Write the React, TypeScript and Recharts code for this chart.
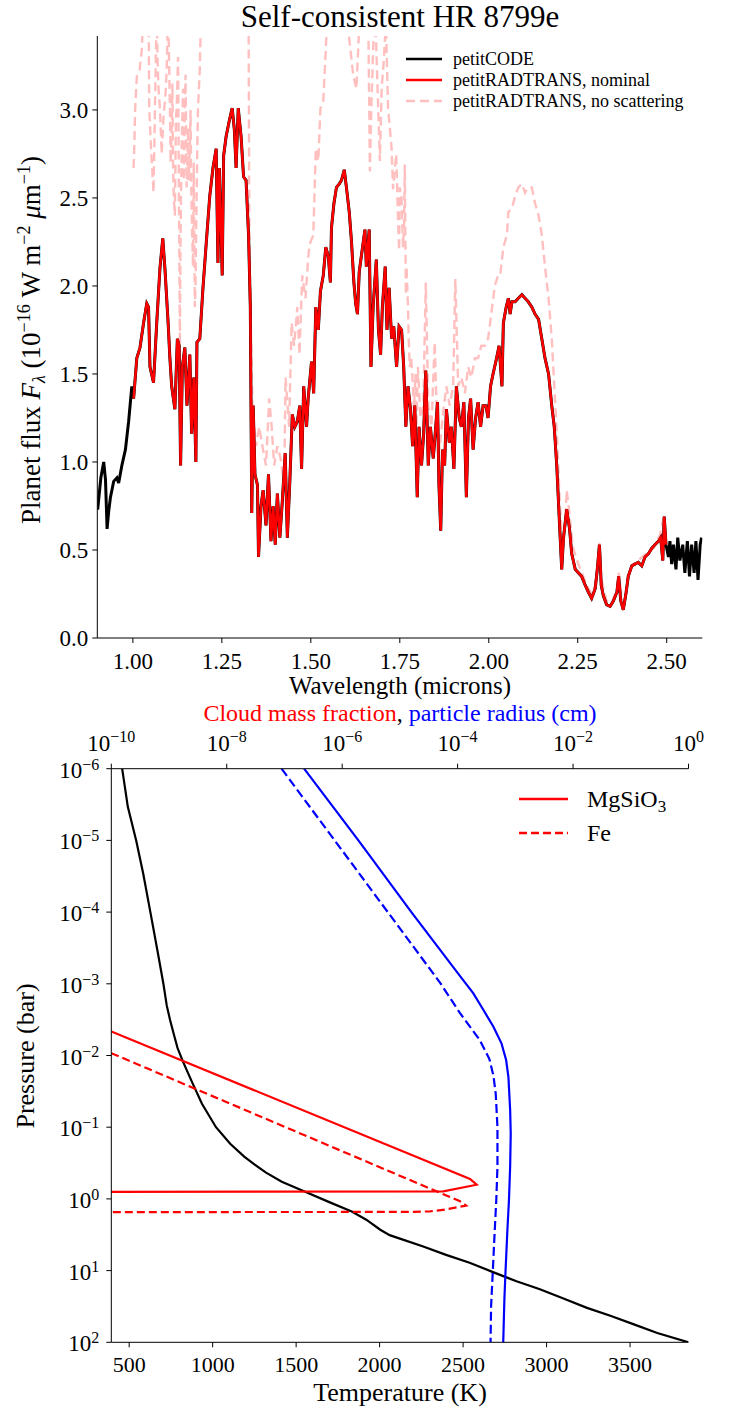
import React from "react";
import { LineChart, Line, XAxis, YAxis, Legend } from "recharts";

const FONT = "Liberation Serif, DejaVu Serif, serif";

// ---------- top panel: emission spectrum, [wavelength (micron), flux (1e-16 W m^-2 um^-1)]
const codeShortEnd: [number, number][] = [
  [0.901, 0.73], [0.91, 0.91], [0.918, 1.0], [0.923, 0.9], [0.9275, 0.62], [0.932, 0.72],
  [0.937, 0.8], [0.946, 0.89], [0.955, 0.91], [0.96, 0.88], [0.969, 0.98], [0.979, 1.07],
  [0.988, 1.23], [0.997, 1.43],
];

const nominalSpec: [number, number][] = [
  [1.002, 1.36], [1.011, 1.59], [1.02, 1.65], [1.03, 1.79], [1.039, 1.9], [1.044, 1.88],
  [1.048, 1.54], [1.058, 1.45], [1.067, 1.79], [1.076, 2.1], [1.084, 2.27], [1.09, 2.1],
  [1.099, 1.79], [1.104, 1.59], [1.109, 1.43], [1.118, 1.3], [1.125, 1.7], [1.13, 1.66],
  [1.134, 0.98], [1.139, 1.54], [1.146, 1.65], [1.152, 1.32], [1.16, 1.61], [1.165, 1.16],
  [1.171, 1.48], [1.177, 1.0], [1.18, 1.68], [1.188, 1.7], [1.197, 1.99], [1.206, 2.24],
  [1.216, 2.51], [1.225, 2.67], [1.234, 2.78], [1.239, 2.13], [1.243, 2.67], [1.251, 2.06],
  [1.255, 2.74], [1.262, 2.85], [1.271, 2.94], [1.279, 3.01], [1.285, 2.89], [1.29, 2.67],
  [1.296, 3.01], [1.304, 2.85], [1.311, 2.62], [1.318, 2.6], [1.325, 2.29], [1.33, 1.88],
  [1.334, 0.71], [1.338, 1.32], [1.343, 0.93], [1.35, 0.87], [1.353, 0.46], [1.36, 0.75],
  [1.366, 0.84], [1.374, 0.64], [1.381, 0.93], [1.388, 0.55], [1.394, 0.75], [1.4, 0.53],
  [1.406, 0.82], [1.413, 0.57], [1.42, 0.78], [1.428, 1.05], [1.434, 0.57], [1.441, 0.89],
  [1.448, 1.27], [1.455, 1.2], [1.462, 1.23], [1.469, 1.32], [1.474, 0.96], [1.48, 1.43],
  [1.488, 1.2], [1.4925, 1.36], [1.502, 1.57], [1.508, 1.39], [1.514, 1.88], [1.521, 1.75],
  [1.527, 1.97], [1.535, 2.06], [1.542, 2.22], [1.549, 2.17], [1.555, 2.02], [1.558, 2.33],
  [1.565, 2.47], [1.572, 2.56], [1.58, 2.58], [1.586, 2.6], [1.594, 2.66], [1.6, 2.56],
  [1.608, 2.42], [1.614, 2.26], [1.621, 2.02], [1.626, 1.9], [1.631, 1.84], [1.636, 2.08],
  [1.642, 2.17], [1.652, 2.32], [1.656, 2.11], [1.664, 2.32], [1.669, 1.54], [1.675, 1.88],
  [1.684, 2.15], [1.69, 1.75], [1.696, 1.61], [1.701, 1.88], [1.709, 2.11], [1.714, 1.75],
  [1.72, 1.99], [1.727, 1.7], [1.733, 1.77], [1.741, 1.54], [1.748, 1.77], [1.755, 1.75],
  [1.761, 1.54], [1.767, 1.2], [1.773, 1.43], [1.78, 1.3], [1.786, 1.09], [1.792, 1.32],
  [1.799, 0.8], [1.804, 1.2], [1.811, 0.98], [1.817, 1.16], [1.823, 1.52], [1.83, 0.98],
  [1.836, 1.2], [1.844, 1.02], [1.851, 1.2], [1.856, 1.34], [1.86, 0.87], [1.865, 0.61],
  [1.87, 1.07], [1.876, 0.98], [1.881, 1.3], [1.889, 1.11], [1.895, 1.2], [1.902, 0.96],
  [1.909, 1.43], [1.917, 1.25], [1.923, 1.2], [1.93, 1.34], [1.937, 0.8], [1.943, 1.25],
  [1.949, 1.36], [1.956, 1.07], [1.963, 1.25], [1.97, 1.34], [1.977, 1.2], [1.984, 1.32],
  [1.992, 1.32], [1.998, 1.25], [2.005, 1.43], [2.012, 1.5], [2.022, 1.59], [2.029, 1.66],
  [2.037, 1.43], [2.041, 1.79], [2.049, 1.88], [2.055, 1.93], [2.06, 1.84], [2.065, 1.91],
  [2.074, 1.91], [2.083, 1.93], [2.093, 1.95], [2.102, 1.93], [2.111, 1.91], [2.121, 1.88],
  [2.13, 1.84], [2.14, 1.81], [2.149, 1.7], [2.158, 1.59], [2.168, 1.5], [2.177, 1.32],
  [2.184, 1.2], [2.191, 0.98], [2.199, 0.64], [2.205, 0.39], [2.21, 0.57], [2.219, 0.73],
  [2.227, 0.62], [2.233, 0.48], [2.243, 0.39], [2.252, 0.37], [2.261, 0.35], [2.271, 0.3],
  [2.28, 0.26], [2.289, 0.225], [2.299, 0.28], [2.305, 0.39], [2.311, 0.53], [2.316, 0.3],
  [2.322, 0.24], [2.331, 0.19], [2.341, 0.18], [2.35, 0.21], [2.36, 0.26], [2.365, 0.35],
  [2.371, 0.21], [2.378, 0.16], [2.386, 0.26], [2.392, 0.35], [2.402, 0.41], [2.411, 0.42],
  [2.42, 0.43], [2.43, 0.41], [2.439, 0.46], [2.449, 0.48], [2.458, 0.51], [2.467, 0.53],
  [2.477, 0.55], [2.483, 0.57], [2.489, 0.44], [2.493, 0.69], [2.498, 0.53],
];

const codeLongEnd: [number, number][] = [
  [2.505, 0.46], [2.509, 0.55], [2.514, 0.42], [2.519, 0.53], [2.526, 0.39], [2.531, 0.57],
  [2.537, 0.44], [2.545, 0.53], [2.551, 0.37], [2.558, 0.55], [2.564, 0.35], [2.57, 0.53],
  [2.577, 0.37], [2.582, 0.55], [2.588, 0.33], [2.594, 0.53], [2.598, 0.57],
];

// values above 3.42 run off the top of the panel
const noScatteringSpec: [number, number][] = [
  [1.002, 2.67], [1.004, 2.8], [1.0065, 3.01], [1.011, 3.19], [1.019, 3.23], [1.025, 3.34],
  [1.03, 3.6], [1.039, 3.7], [1.044, 3.6], [1.046, 3.01], [1.051, 2.78], [1.058, 2.53],
  [1.062, 3.01], [1.067, 3.6], [1.069, 3.3], [1.072, 3.12], [1.076, 3.01], [1.081, 2.75],
  [1.086, 2.96], [1.092, 3.1], [1.095, 3.23], [1.099, 3.6], [1.104, 3.01], [1.106, 2.7],
  [1.109, 2.87], [1.111, 3.15], [1.113, 2.67], [1.115, 2.5], [1.118, 2.4], [1.121, 2.95],
  [1.123, 3.01], [1.127, 3.3], [1.132, 1.66], [1.134, 2.3], [1.137, 2.78], [1.141, 3.12],
  [1.143, 2.6], [1.146, 3.01], [1.148, 3.2], [1.151, 2.56], [1.155, 2.9], [1.157, 2.6],
  [1.16, 2.78], [1.162, 3.0], [1.164, 2.56], [1.166, 2.35], [1.169, 2.11], [1.171, 2.7],
  [1.174, 1.88], [1.176, 2.0], [1.178, 2.33], [1.181, 2.8], [1.183, 3.01], [1.188, 3.23],
  [1.192, 3.6], [1.22, 3.9], [1.3, 3.9], [1.325, 3.6], [1.327, 2.4], [1.332, 1.7],
  [1.336, 1.32], [1.346, 1.09], [1.355, 1.2], [1.364, 1.09], [1.374, 0.98], [1.383, 1.36],
  [1.39, 1.2], [1.397, 0.98], [1.406, 1.09], [1.415, 1.02], [1.425, 0.87], [1.429, 1.48],
  [1.439, 1.2], [1.446, 1.79], [1.453, 1.66], [1.462, 1.88], [1.468, 1.61], [1.476, 2.06],
  [1.485, 1.93], [1.493, 2.17], [1.497, 2.24], [1.507, 2.29], [1.514, 2.78], [1.521, 2.71],
  [1.527, 3.01], [1.535, 3.05], [1.542, 3.34], [1.549, 3.7], [1.581, 3.9], [1.619, 3.2],
  [1.628, 3.12], [1.633, 3.34], [1.638, 3.6], [1.661, 3.6], [1.666, 2.65], [1.67, 3.01],
  [1.675, 3.34], [1.68, 3.6], [1.694, 2.71], [1.699, 3.12], [1.705, 3.28], [1.711, 3.5],
  [1.717, 3.01], [1.722, 2.9], [1.727, 2.78], [1.731, 2.55], [1.736, 2.67], [1.74, 2.75],
  [1.745, 2.38], [1.748, 2.2], [1.75, 2.56], [1.755, 2.5], [1.759, 2.22], [1.762, 2.35],
  [1.764, 2.69], [1.767, 1.95], [1.769, 2.11], [1.773, 1.88], [1.775, 1.7], [1.778, 1.54],
  [1.782, 1.6], [1.787, 1.43], [1.79, 1.3], [1.794, 1.5], [1.797, 1.2], [1.801, 1.54],
  [1.808, 1.25], [1.816, 1.32], [1.823, 2.02], [1.83, 1.32], [1.839, 1.2], [1.848, 1.68],
  [1.855, 1.2], [1.862, 1.07], [1.87, 1.25], [1.881, 1.43], [1.89, 1.32], [1.9, 1.43],
  [1.906, 2.04], [1.914, 1.43], [1.923, 1.48], [1.933, 1.39], [1.942, 1.54], [1.951, 1.48],
  [1.961, 1.59], [1.97, 1.59], [1.979, 1.66], [1.989, 1.66], [1.998, 1.7], [2.007, 1.84],
  [2.017, 2.0], [2.026, 2.06], [2.032, 2.06], [2.041, 2.22], [2.051, 2.29], [2.055, 2.42],
  [2.065, 2.44], [2.074, 2.51], [2.083, 2.56], [2.093, 2.58], [2.102, 2.53], [2.111, 2.56],
  [2.121, 2.56], [2.13, 2.47], [2.14, 2.4], [2.149, 2.29], [2.158, 2.11], [2.168, 1.93],
  [2.177, 1.7], [2.186, 1.36], [2.193, 1.09], [2.2, 0.75], [2.208, 0.48], [2.214, 0.64],
  [2.219, 0.84], [2.227, 0.7], [2.236, 0.52], [2.245, 0.46], [2.257, 0.39], [2.266, 0.35],
  [2.275, 0.3], [2.289, 0.25], [2.299, 0.3], [2.305, 0.41], [2.311, 0.54], [2.317, 0.33],
  [2.331, 0.21], [2.346, 0.2], [2.36, 0.28], [2.365, 0.37], [2.374, 0.23], [2.38, 0.19],
  [2.392, 0.37], [2.406, 0.42], [2.425, 0.45], [2.444, 0.48], [2.463, 0.51], [2.481, 0.585],
  [2.493, 0.7], [2.498, 0.55],
];

const wlTicks = [1.0, 1.25, 1.5, 1.75, 2.0, 2.25, 2.5];
const fluxTicks = [0, 0.5, 1.0, 1.5, 2.0, 2.5, 3.0];

const spectrumLegendItems = [
  { name: "petitCODE", color: "#000000", opacity: 1, dash: undefined as string | undefined },
  { name: "petitRADTRANS, nominal", color: "#ff0000", opacity: 1, dash: undefined },
  { name: "petitRADTRANS, no scattering", color: "#ff0000", opacity: 0.25, dash: "9 5" },
];

// ---------- bottom panel: atmospheric structure, pressure in bar
const tpProfile: [number, number][] = [
  [458, 1e-6], [492, 3.4e-6], [542, 1e-5], [584, 2.9e-5], [627, 1e-4], [669, 3.4e-4],
  [705, 1e-3], [725, 2.0e-3], [745, 3.2e-3], [767, 5.0e-3], [790, 7.9e-3], [823, 1.23e-2],
  [880, 2.45e-2], [936, 4.7e-2], [1020, 0.1], [1105, 0.17], [1189, 0.257], [1250, 0.33],
  [1320, 0.43], [1414, 0.575], [1554, 0.794], [1695, 1.1], [1836, 1.51], [1920, 1.95],
  [2004, 2.69], [2060, 3.2], [2117, 3.55], [2257, 4.57], [2398, 6.03], [2539, 7.76],
  [2679, 10.5], [2820, 14.1], [2960, 18.2], [3101, 24.5], [3242, 33.1], [3382, 42.7],
  [3523, 56.2], [3663, 74.1], [3850, 100],
];

// [cloud mass fraction, pressure]; 1e-12 marks "no cloud", beyond the left edge
const massMgSiO3: [number, number][] = [
  [1e-10, 4.62e-3], [1.64e-4, 0.528], [2.14e-4, 0.634], [5.65e-5, 0.785], [1e-12, 0.8],
];
const massFe: [number, number][] = [
  [1e-10, 9.27e-3], [1.1e-4, 1.08], [1.4e-4, 1.24], [6.04e-5, 1.41], [3.32e-5, 1.49],
  [1.71e-5, 1.52], [1e-12, 1.53],
];

// [particle radius (cm), pressure]
const radiusMgSiO3: [number, number][] = [
  [2.19e-7, 1e-6], [1.91e-6, 1e-5], [1.58e-5, 1e-4], [4.68e-5, 3.16e-4], [1.12e-4, 7.94e-4],
  [1.86e-4, 1.35e-3], [2.82e-4, 2.34e-3], [4.17e-4, 3.98e-3], [5.75e-4, 6.76e-3],
  [6.92e-4, 1.15e-2], [7.59e-4, 2.0e-2], [8.13e-4, 5.75e-2], [8.32e-4, 0.123],
  [8.13e-4, 0.355], [7.76e-4, 1.02], [7.24e-4, 3.02], [6.76e-4, 10.2], [6.46e-4, 25.1],
  [6.17e-4, 100],
];
const radiusFe: [number, number][] = [
  [8.91e-8, 1e-6], [7.41e-7, 1e-5], [6.17e-6, 1e-4], [1.78e-5, 3.16e-4], [5.01e-5, 9.77e-4],
  [1.1e-4, 2.57e-3], [2.4e-4, 6.03e-3], [3.55e-4, 1.12e-2], [4.17e-4, 1.91e-2],
  [4.57e-4, 3.39e-2], [4.9e-4, 0.1], [4.9e-4, 0.355], [4.68e-4, 1.02], [4.37e-4, 3.02],
  [4.07e-4, 10.2], [3.8e-4, 31.6], [3.72e-4, 100],
];

const tempTicks = [500, 1000, 1500, 2000, 2500, 3000, 3500];
const topLogTicks = [1e-10, 1e-8, 1e-6, 1e-4, 1e-2, 1];
const pressureTicks = [1e-6, 1e-5, 1e-4, 1e-3, 1e-2, 1e-1, 1, 10, 100];
const pressureMinorTicks = pressureTicks
  .slice(0, -1)
  .flatMap((d) => [2, 3, 4, 5, 6, 7, 8, 9].map((k) => k * d));

const cloudLegendItems = [
  { name: "MgSiO", sub: "3", dash: undefined as string | undefined },
  { name: "Fe", sub: "", dash: "8 4" },
];

const toSpec = (pairs: [number, number][]) => pairs.map(([wl, flux]) => ({ wl, flux }));
const toTP = (pairs: [number, number][]) => pairs.map(([T, P]) => ({ T, P }));
const toCloud = (pairs: [number, number][]) => pairs.map(([v, P]) => ({ v, P }));

const codeData = toSpec([...codeShortEnd, ...nominalSpec, ...codeLongEnd]);
const nominalData = toSpec(nominalSpec);
const noScatData = toSpec(noScatteringSpec);

const tickStyle = { fill: "#000", fontSize: 23, fontFamily: FONT };
const axisColor = "#000";

function expLabel(v: number) {
  const e = Math.round(Math.log10(v));
  return e < 0 ? `\u2212${-e}` : `${e}`;
}

function PowerTick(props: any) {
  const { x, y, payload, side } = props;
  const exp = expLabel(payload.value);
  const left = side === "left";
  return (
    <text
      x={x}
      y={left ? y + 9 : y - 11}
      textAnchor={left ? "end" : "middle"}
      fontFamily={FONT}
      fontSize={23}
      fill="#000"
    >
      10
      <tspan dy={left ? -8 : -9} fontSize={16}>
        {exp}
      </tspan>
    </text>
  );
}

function SpectrumLegend() {
  return (
    <svg width={300} height={66}>
      {spectrumLegendItems.map((it, i) => (
        <g key={it.name}>
          <line
            x1={6}
            x2={42}
            y1={13 + i * 21}
            y2={13 + i * 21}
            stroke={it.color}
            strokeOpacity={it.opacity}
            strokeWidth={2.6}
            strokeDasharray={it.dash}
          />
          <text x={53} y={19 + i * 21} fontFamily={FONT} fontSize={18} fill="#000">
            {it.name}
          </text>
        </g>
      ))}
    </svg>
  );
}

function CloudLegend() {
  return (
    <svg width={170} height={70}>
      {cloudLegendItems.map((it, i) => (
        <g key={it.name}>
          <line
            x1={5}
            x2={54}
            y1={14 + i * 34}
            y2={14 + i * 34}
            stroke="#ff0000"
            strokeWidth={2.4}
            strokeDasharray={it.dash}
          />
          <text x={73} y={22 + i * 34} fontFamily={FONT} fontSize={24} fill="#000">
            {it.name}
            {it.sub && (
              <tspan dy={5} fontSize={17}>
                {it.sub}
              </tspan>
            )}
          </text>
        </g>
      ))}
    </svg>
  );
}

function SpectrumPanel() {
  return (
    <LineChart width={736} height={700} margin={{ top: 36, right: 33.7, bottom: 0, left: 0 }}>
      <XAxis
        xAxisId="wl"
        dataKey="wl"
        type="number"
        domain={[0.9, 2.6]}
        ticks={wlTicks}
        interval={0}
        tickFormatter={(v: number) => v.toFixed(2)}
        height={62}
        tickSize={5}
        tickMargin={10}
        tick={tickStyle}
        stroke={axisColor}
        allowDataOverflow
      />
      <XAxis xAxisId="frameTop" orientation="top" type="number" domain={[0, 1]} height={0} tick={false} tickLine={false} stroke={axisColor} />
      <YAxis
        yAxisId="flux"
        type="number"
        domain={[0, 3.42]}
        ticks={fluxTicks}
        interval={0}
        tickFormatter={(v: number) => v.toFixed(1)}
        width={97.3}
        tickSize={5}
        tickMargin={4}
        tick={tickStyle}
        stroke={axisColor}
        allowDataOverflow
      />
      <YAxis yAxisId="frameRight" orientation="right" type="number" domain={[0, 1]} width={0} tick={false} tickLine={false} stroke={axisColor} />
      <Legend
        layout="vertical"
        align="center"
        verticalAlign="middle"
        wrapperStyle={{ left: 400, top: 46, width: 300 }}
        content={() => <SpectrumLegend />}
      />
      <Line
        xAxisId="wl"
        yAxisId="flux"
        data={codeData}
        dataKey="flux"
        name="petitCODE"
        stroke="#000000"
        strokeWidth={3}
        dot={false}
        activeDot={false}
        isAnimationActive={false}
      />
      <Line
        xAxisId="wl"
        yAxisId="flux"
        data={nominalData}
        dataKey="flux"
        name="petitRADTRANS, nominal"
        stroke="#ff0000"
        strokeWidth={2.5}
        dot={false}
        activeDot={false}
        isAnimationActive={false}
      />
      <Line
        xAxisId="wl"
        yAxisId="flux"
        data={noScatData}
        dataKey="flux"
        name="petitRADTRANS, no scattering"
        stroke="#ff0000"
        strokeOpacity={0.25}
        strokeWidth={2.4}
        strokeDasharray="9 5"
        dot={false}
        activeDot={false}
        isAnimationActive={false}
      />
    </LineChart>
  );
}

function StructurePanel() {
  const lineCommon = { dot: false, activeDot: false, isAnimationActive: false, strokeWidth: 2.2 } as const;
  return (
    <LineChart width={736} height={712} margin={{ top: 18.7, right: 47.5, bottom: 19.7, left: 0 }}>
      <XAxis
        xAxisId="T"
        dataKey="T"
        type="number"
        domain={[393, 3850]}
        ticks={tempTicks}
        interval={0}
        height={50}
        tickSize={5}
        tickMargin={9}
        tick={{ ...tickStyle, fontSize: 22 }}
        stroke={axisColor}
        allowDataOverflow
      />
      <XAxis
        xAxisId="top"
        dataKey="v"
        orientation="top"
        type="number"
        scale="log"
        domain={[1e-10, 1]}
        ticks={topLogTicks}
        interval={0}
        height={50}
        tickSize={5}
        tickMargin={2}
        tick={(p: any) => <PowerTick {...p} side="top" />}
        stroke={axisColor}
        allowDataOverflow
      />
      {/* minor ticks first so they sit on the plot edge */}
      <YAxis
        yAxisId="minor"
        type="number"
        scale="log"
        domain={[1e-6, 100]}
        reversed
        ticks={pressureMinorTicks}
        interval={0}
        width={0}
        tickSize={3}
        tick={() => <g />}
        axisLine={false}
        stroke={axisColor}
        allowDataOverflow
      />
      <YAxis
        yAxisId="P"
        type="number"
        scale="log"
        domain={[1e-6, 100]}
        reversed
        ticks={pressureTicks}
        interval={0}
        width={111.3}
        tickSize={5}
        tickMargin={7}
        tick={(p: any) => <PowerTick {...p} side="left" />}
        stroke={axisColor}
        allowDataOverflow
      />
      <YAxis yAxisId="frameRight" orientation="right" type="number" domain={[0, 1]} width={0} tick={false} tickLine={false} stroke={axisColor} />
      <Legend
        layout="vertical"
        align="center"
        verticalAlign="middle"
        wrapperStyle={{ left: 514, top: 85, width: 170 }}
        content={() => <CloudLegend />}
      />
      <Line xAxisId="T" yAxisId="P" data={toTP(tpProfile)} dataKey="P" name="T-P" stroke="#000000" {...lineCommon} />
      <Line xAxisId="top" yAxisId="P" data={toCloud(massMgSiO3)} dataKey="P" name="MgSiO3" stroke="#ff0000" {...lineCommon} />
      <Line xAxisId="top" yAxisId="P" data={toCloud(massFe)} dataKey="P" name="Fe" stroke="#ff0000" strokeDasharray="8 4" {...lineCommon} />
      <Line xAxisId="top" yAxisId="P" data={toCloud(radiusMgSiO3)} dataKey="P" name="r MgSiO3" stroke="#0000ff" {...lineCommon} />
      <Line xAxisId="top" yAxisId="P" data={toCloud(radiusFe)} dataKey="P" name="r Fe" stroke="#0000ff" strokeDasharray="9 4" {...lineCommon} />
    </LineChart>
  );
}

function Titles() {
  const t = { fontFamily: FONT, fill: "#000" };
  return (
    <svg width={736} height={1412} style={{ position: "absolute", left: 0, top: 0, pointerEvents: "none" }}>
      <text x={400} y={27} textAnchor="middle" fontSize={31} {...t}>
        Self-consistent HR 8799e
      </text>
      <text x={400} y={694} textAnchor="middle" fontSize={25} {...t}>
        Wavelength (microns)
      </text>
      <text transform="translate(40,340) rotate(-90)" textAnchor="middle" fontSize={27} {...t}>
        Planet flux <tspan fontStyle="italic">F</tspan>
        <tspan fontStyle="italic" fontSize={18} dy={5}>λ</tspan>
        <tspan dy={-5}> (10</tspan>
        <tspan fontSize={18} dy={-10}>−16</tspan>
        <tspan dy={10}> W m</tspan>
        <tspan fontSize={18} dy={-10}>−2</tspan>
        <tspan dy={10}> </tspan>
        <tspan fontStyle="italic">μ</tspan>
        <tspan>m</tspan>
        <tspan fontSize={18} dy={-10}>−1</tspan>
        <tspan dy={10}>)</tspan>
      </text>
      <text x={400} y={721} textAnchor="middle" fontSize={24} {...t}>
        <tspan fill="#ff0000">Cloud mass fraction</tspan>
        <tspan fill="#000">, </tspan>
        <tspan fill="#0000ff">particle radius (cm)</tspan>
      </text>
      <text x={400} y={1401} textAnchor="middle" fontSize={26} {...t}>
        Temperature (K)
      </text>
      <text transform="translate(34,1056) rotate(-90)" textAnchor="middle" fontSize={26} {...t}>
        Pressure (bar)
      </text>
    </svg>
  );
}

export default function App() {
  return (
    <div style={{ position: "absolute", left: 0, top: 0, width: 736, height: 1412, background: "#fff" }}>
      <div style={{ position: "absolute", left: 0, top: 0 }}>
        <SpectrumPanel />
      </div>
      <div style={{ position: "absolute", left: 0, top: 700 }}>
        <StructurePanel />
      </div>
      <Titles />
    </div>
  );
}
